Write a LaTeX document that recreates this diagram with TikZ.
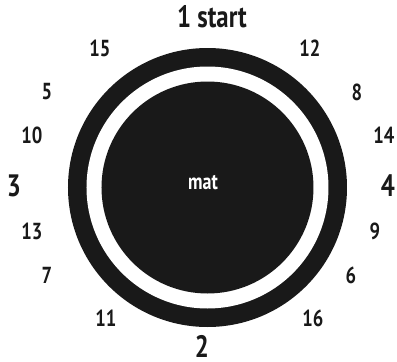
\documentclass[tikz,border=0pt]{standalone}
\usepackage{fontspec}
\newfontfamily\labelfont{PT Sans}[FakeStretch=0.8]
\usetikzlibrary{positioning}

\begin{document}
\begin{tikzpicture}[
  x=0.025cm, y=-0.025cm,
  num/.style={font=\labelfont\bfseries\fontsize{16.5}{16}\selectfont, text=black!90, inner sep=0pt},
  side/.style={font=\labelfont\bfseries\fontsize{22}{22}\selectfont, text=black!90, inner sep=0pt},
  matlbl/.style={font=\labelfont\bfseries\fontsize{16}{16}\selectfont, text=white, inner sep=0pt},
]
\useasboundingbox (0,0) rectangle (397,362);

% --- Mat ---
\coordinate (c) at (207.5,187.5);
\fill[black!90] (c) circle (139.5);
\fill[white] (c) circle (121);
\fill[black!90] (c) circle (106);
\node[matlbl] (mat) at (203,183) {mat};

% --- Main positions ---
\node[side] (p1) at (212,17) {1 start};
\node[side] (p2) at (202,346) {2};
\node[side] (p3) at (14,186) {3};
\node[side] (p4) at (388,186) {4};

% --- Other positions ---
\node[num] (p15) at (100,48) {15};
\node[num] (p12) at (310,48) {12};
\node[num] (p5) at (47,92) {5};
\node[num] (p8) at (357,92) {8};
\node[num] (p10) at (32,135) {10};
\node[num] (p14) at (384,135) {14};
\node[num] (p13) at (32,231) {13};
\node[num] (p9) at (375,231) {9};
\node[num] (p7) at (47,275) {7};
\node[num] (p6) at (351,275) {6};
\node[num] (p11) at (106,318) {11};
\node[num] (p16) at (313,318) {16};

\end{tikzpicture}
\end{document}
